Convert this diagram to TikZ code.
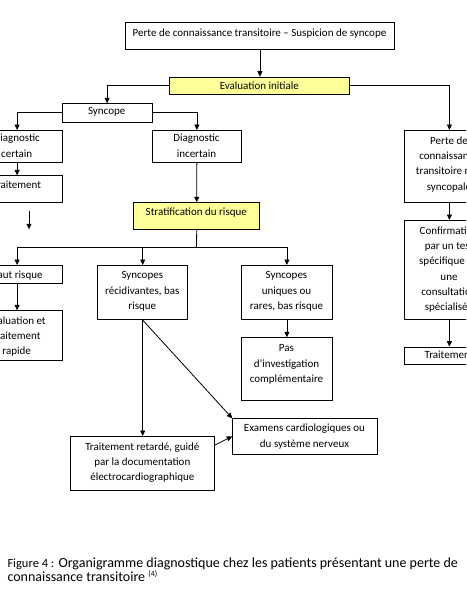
\documentclass[tikz,border=0pt]{standalone}
\usepackage{fontspec}
\setmainfont{Carlito}
\usetikzlibrary{arrows.meta,calc}
\definecolor{boxyellow}{RGB}{255,255,153}
\newcommand\mybox[6]{\node[box,#6,minimum width={#4-#2},minimum height={#5-#3}] (#1) at (#2,#3) {};}
\newcommand\mytext[4]{\node[txt] (#1t) at (#2,#3) {\rule{0pt}{8pt}#4};}
\begin{document}
\begin{tikzpicture}[x=1pt,y=-1pt,
  box/.style={draw, line width=0.8pt, inner sep=0pt, anchor=north west},
  txt/.style={anchor=north, align=center, inner sep=0pt, font=\fontsize{11}{15.3}\selectfont},
  arr/.style={-{Triangle[length=5.5pt,width=5pt]}, line width=0.8pt},
  plain/.style={line width=0.8pt}]
\useasboundingbox (0,0) rectangle (466,599);
\fill[white] (0,0) rectangle (466,599);
\clip (0,0) rectangle (466,599);
% boxes
\mybox{top}{124.7}{22.3}{394.3}{49.3}{}
\mytext{top}{259.5}{28.6}{Perte de connaissance transitoire – Suspicion de syncope}
\mybox{eval}{169.3}{76.7}{349.3}{94.3}{fill=boxyellow}
\mytext{eval}{259.3}{81.3}{Evaluation initiale}
\mybox{syncope}{61.7}{103.3}{151.7}{121.7}{}
\mytext{syncope}{106.7}{106}{Syncope}
\mybox{diagC}{-28.3}{130}{61.7}{162.3}{}
\mytext{diagC}{16.7}{133.6}{Diagnostic\\certain}
\mybox{diagI}{151.7}{130}{241.3}{162.3}{}
\mytext{diagI}{196.5}{133.6}{Diagnostic\\incertain}
\mybox{traitL}{-28.3}{175.3}{61.7}{202}{}
\mytext{traitL}{16.7}{180.3}{Traitement}
\mybox{strat}{133.3}{202.3}{259.3}{229.3}{fill=boxyellow}
\mytext{strat}{196.3}{207.6}{Stratification du risque}
\mybox{haut}{-28.3}{265}{61.7}{283.3}{}
\mytext{haut}{16.7}{270.6}{Haut risque}
\mybox{evalTR}{-28.3}{310.3}{61.7}{360.3}{}
\mytext{evalTR}{16.7}{316}{Evaluation et\\traitement\\rapide}
\mybox{recid}{97.3}{265}{187.3}{319.3}{}
\mytext{recid}{142.3}{270.6}{Syncopes\\récidivantes, bas\\risque}
\mybox{uniq}{241.3}{265}{331.7}{319.3}{}
\mytext{uniq}{286.5}{270.6}{Syncopes\\uniques ou\\rares, bas risque}
\mybox{pas}{241.3}{337.3}{331.7}{400.3}{}
\mytext{pas}{286.5}{343.6}{Pas\\d’investigation\\complémentaire}
\mybox{nonsync}{403.7}{130}{494.3}{202.3}{}
\mytext{nonsync}{449}{136}{Perte de\\connaissance\\transitoire non\\syncopale}
\mybox{confirm}{403.7}{220}{494.3}{319.3}{}
\mytext{confirm}{449}{226}{Confirmation\\par un test\\spécifique ou\\une\\consultation\\spécialisée}
\mybox{traitR}{403.7}{346.7}{494.3}{364.3}{}
\mytext{traitR}{449}{350.3}{Traitement}
\mybox{examens}{232.3}{418.3}{376.7}{454}{}
\mytext{examens}{304.5}{423.6}{Examens cardiologiques ou\\du système nerveux}
\mybox{retard}{70.3}{436}{214.3}{490}{}
\mytext{retard}{142.3}{442}{Traitement retardé, guidé\\par la documentation\\électrocardiographique}
% connectors
\draw[arr] (top.south) -- (top.south |- eval.north);
\draw[arr] (eval.west) -| (syncope.north);
\draw[arr] (eval.east) -| (nonsync.north);
\draw[arr] (syncope.west) -| (diagC.north);
\draw[arr] (syncope.east) -| (diagI.north);
\draw[arr] (diagC) -- (traitL);
\coordinate (o1) at (29,211);
\coordinate (o2) at (29,229.3);
\draw[arr] (o1) -- (o2);
\draw[arr] (diagI) -- (strat);
\coordinate (split) at (196.5,247.3);
\draw[plain] (strat.south) -- (split);
\draw[arr] (split) -| (haut.north);
\draw[arr] (split) -| (recid.north);
\draw[arr] (split) -| (uniq.north);
\draw[arr] (haut) -- (evalTR);
\draw[arr] (uniq) -- (pas);
\draw[arr] (nonsync) -- (confirm);
\draw[arr] (confirm) -- (traitR);
\draw[arr] (recid.south) -- (retard.north);
\draw[arr] (recid.south) -- (examens.north west);
\draw[arr] ([yshift=-9pt]retard.north east) -- ([yshift=-18pt]examens.north west);
% caption
\node[anchor=base west, inner sep=0pt, font=\fontsize{14}{15}\selectfont] (cap1) at (7.3,567.5) {{\fontsize{12.5}{14}\selectfont Figure 4 :} Organigramme diagnostique chez les patients présentant une perte de};
\node[anchor=base west, inner sep=0pt, font=\fontsize{14}{15}\selectfont] (cap2) at (7.3,581.5) {connaissance transitoire {\fontsize{8}{9}\selectfont\raisebox{5pt}{(4)}}};
\end{tikzpicture}
\end{document}
